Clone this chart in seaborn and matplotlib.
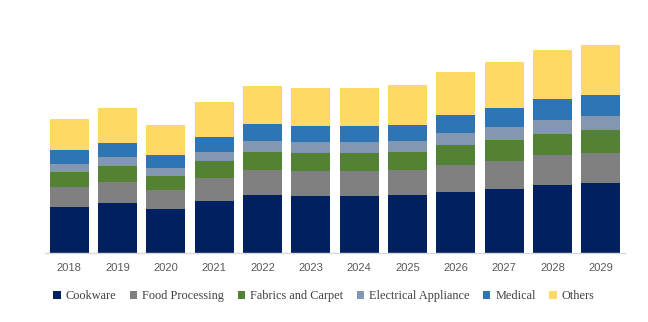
import matplotlib
matplotlib.use("Agg")
import matplotlib.pyplot as plt
from matplotlib.patches import Patch
import numpy as np
import pandas as pd
import seaborn as sns

years = ["2018", "2019", "2020", "2021", "2022", "2023",
         "2024", "2025", "2026", "2027", "2028", "2029"]

cookware = [46, 50, 44, 52, 58, 57, 57, 58, 61, 64, 68, 70]
food_processing = [20, 21, 19, 23, 25, 25, 25, 25, 27, 28, 30, 30]
fabrics_carpet = [15, 16, 14, 17, 18, 18, 18, 18, 20, 21, 21, 23]
electrical_appliance = [8, 9, 8, 9, 11, 11, 11, 11, 12, 13, 14, 14]
medical = [14, 14, 13, 15, 17, 16, 16, 16, 18, 19, 21, 21]
others = [31, 35, 30, 35, 38, 38, 38, 40, 43, 46, 49, 50]

segments = ["Cookware", "Food Processing", "Fabrics and Carpet",
            "Electrical Appliance", "Medical", "Others"]
colors = ["#002060", "#808080", "#548235", "#8497B0", "#2E75B6", "#FFD966"]

series = [cookware, food_processing, fabrics_carpet,
          electrical_appliance, medical, others]

sns.set_theme(style="white")

fig = plt.figure(figsize=(6.48, 3.22), dpi=100)
ax = fig.add_axes([45 / 648, (322 - 253) / 322, 580 / 648, 220 / 322])

# stacked bars: draw cumulative totals from the top segment down
cum = np.cumsum(np.array(series, dtype=float), axis=0)
for i in range(len(segments) - 1, -1, -1):
    df = pd.DataFrame({"year": years, "value": cum[i]})
    sns.barplot(data=df, x="year", y="value", color=colors[i],
                saturation=1, width=0.81, ax=ax, linewidth=0)

ax.set_xlim(-0.5, 11.5)
ax.set_ylim(0, 220)
ax.set_xlabel("")
ax.set_ylabel("")
ax.set_yticks([])
for s in ["left", "right", "top"]:
    ax.spines[s].set_visible(False)
ax.spines["bottom"].set_color("#d9d9d9")
ax.spines["bottom"].set_linewidth(1.0)
ax.tick_params(axis="x", length=0, pad=7.5, labelsize=8, labelcolor="#595959")
for lab in ax.get_xticklabels():
    lab.set_family("Liberation Sans")

handles = [Patch(facecolor=c, edgecolor="none", label=l) for c, l in zip(colors, segments)]
fig.legend(handles=handles, loc="center", bbox_to_anchor=(0.5, (322 - 296) / 322),
           ncol=6, frameon=False, handlelength=0.6, handleheight=0.6,
           handletextpad=0.42, columnspacing=1.1,
           prop={"family": "Liberation Serif", "size": 8.8},
           labelcolor="#404040")

fig.savefig("out.png", dpi=100)
